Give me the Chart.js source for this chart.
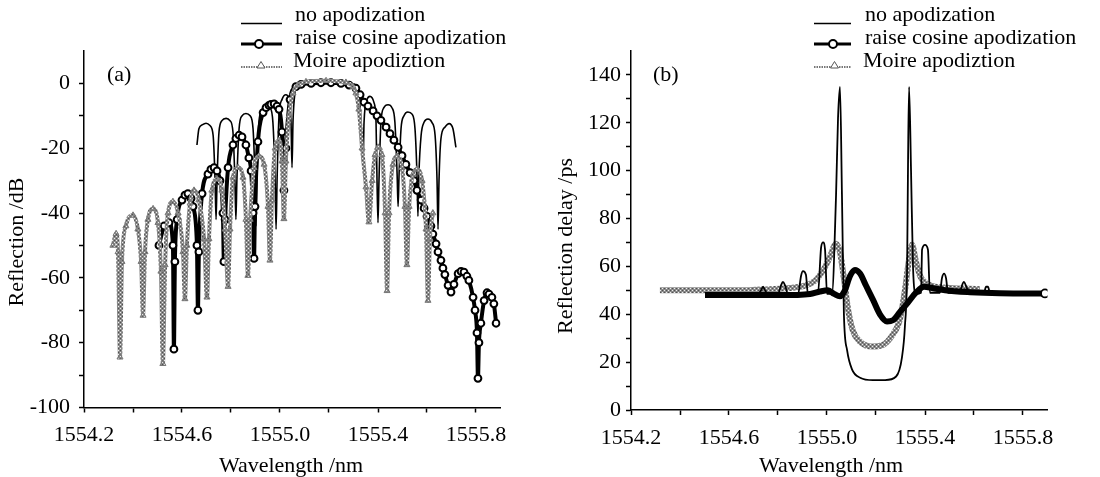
<!DOCTYPE html>
<html>
<head>
<meta charset="utf-8">
<script src="https://cdn.jsdelivr.net/npm/chart.js@4.4.0/dist/chart.umd.min.js"></script>
<style>
  body { margin:0; background:#fff; width:1100px; height:477px; overflow:hidden;
         font-family:"Liberation Serif","Times New Roman",serif; color:#000; }
  canvas { position:absolute; top:0; }
  .txt { position:absolute; font-size:22px; line-height:1; white-space:nowrap; }
  .ytitle { position:absolute; font-size:22px; line-height:1; white-space:nowrap;
            transform:translate(-50%,-50%) rotate(-90deg); }
  .xtitle { position:absolute; font-size:22px; line-height:1; white-space:nowrap;
            transform:translate(-50%,-50%); }
  svg { position:absolute; left:0; top:0; }
</style>
</head>
<body>
<canvas id="chartA" width="550" height="477" style="left:0"></canvas>
<canvas id="chartB" width="550" height="477" style="left:550px"></canvas>

<svg width="1100" height="477">
  <!-- legend samples (a) -->
  <line x1="241" y1="23.5" x2="282" y2="23.5" stroke="#000" stroke-width="1.6"/>
  <line x1="241" y1="44" x2="282" y2="44" stroke="#000" stroke-width="3"/>
  <circle cx="259" cy="44" r="4" fill="#fff" stroke="#000" stroke-width="2"/>
  <line x1="241" y1="67" x2="282" y2="67" stroke="#777" stroke-width="2" stroke-dasharray="1.5,1"/>
  <polygon points="261,61.5 265,68 257,68" fill="#fff" stroke="#555" stroke-width="1"/>
  <!-- legend samples (b) -->
  <line x1="814" y1="23.5" x2="851" y2="23.5" stroke="#000" stroke-width="1.6"/>
  <line x1="814" y1="44" x2="851" y2="44" stroke="#000" stroke-width="3"/>
  <circle cx="833" cy="44" r="4" fill="#fff" stroke="#000" stroke-width="2"/>
  <line x1="814" y1="67" x2="851" y2="67" stroke="#777" stroke-width="2" stroke-dasharray="1.5,1"/>
  <polygon points="834.5,61.5 838.5,68 830.5,68" fill="#fff" stroke="#555" stroke-width="1"/>
</svg>

<div class="txt" style="left:295px;top:3px">no apodization</div>
<div class="txt" style="left:295px;top:26px">raise cosine apodization</div>
<div class="txt" style="left:293px;top:49px">Moire apodiztion</div>
<div class="txt" style="left:865px;top:3px">no apodization</div>
<div class="txt" style="left:865px;top:26px">raise cosine apodization</div>
<div class="txt" style="left:863px;top:49px">Moire apodiztion</div>

<div class="txt" style="left:107px;top:63px">(a)</div>
<div class="txt" style="left:653px;top:63px">(b)</div>

<div class="ytitle" style="left:16px;top:242px">Reflection /dB</div>
<div class="ytitle" style="left:565px;top:246px">Reflection delay /ps</div>
<div class="xtitle" style="left:291px;top:465px">Wavelength /nm</div>
<div class="xtitle" style="left:831px;top:465px">Wavelength /nm</div>

<script>
// ---- ticks ----
const xTickVals = [1554.2,1554.4,1554.6,1554.8,1555.0,1555.2,1555.4,1555.6,1555.8];
const xTickText = ['1554.2','','1554.6','','1555.0','','1555.4','','1555.8'];
const yTicksA = [-100,-90,-80,-70,-60,-50,-40,-30,-20,-10,0];
const yTicksB = [0,10,20,30,40,50,60,70,80,90,100,110,120,130,140];

// ---- (a) reflection, dB ----
const noApodA_wl = [1554.661,1554.669,1554.682,1554.698,1554.714,1554.727,1554.735,1554.739,1554.743,1554.751,
  1554.763,1554.780,1554.796,1554.808,1554.816,1554.820,1554.824,1554.833,1554.845,1554.861,
  1554.878,1554.890,1554.898,1554.902,1554.906,1554.914,1554.927,1554.943,1554.959,1554.971,
  1554.980,1554.984,1554.988,1554.996,1555.008,1555.024,1555.037,1555.045,1555.049,1555.053,
  1555.061,1555.073,1555.094,1555.188,1555.290,1555.310,1555.322,1555.331,1555.339,1555.343,
  1555.355,1555.367,1555.384,1555.392,1555.396,1555.400,1555.404,1555.412,1555.424,1555.441,
  1555.457,1555.469,1555.478,1555.482,1555.486,1555.494,1555.506,1555.522,1555.539,1555.551,
  1555.559,1555.563,1555.567,1555.576,1555.588,1555.604,1555.620,1555.633,1555.641,1555.645,
  1555.649,1555.657,1555.673,1555.690,1555.706,1555.718];
const noApodA_db = [-19,-14,-12.8,-12.3,-13,-16,-30,-42,-30,-15,
  -11.5,-10.8,-11.5,-15,-30,-42,-30,-14,-10,-9.3,
  -10,-14,-30,-44,-30,-12,-8,-6.8,-7.5,-12,
  -30,-45,-30,-10,-5,-3.5,-5,-12,-26,-12,
  -3,-0.5,0,0.3,0,-0.5,-3,-12,-26,-12,
  -5,-4,-6,-12,-30,-43,-30,-12,-7.5,-6.6,
  -7.5,-12,-28,-38,-28,-14,-10,-8.8,-9.5,-14,
  -28,-41,-28,-16,-12,-11,-12,-16,-30,-45,
  -30,-17,-13.5,-12.4,-14,-19.7];

const raiseA_wl = [1554.506,1554.527,1554.547,1554.563,1554.567,1554.571,1554.580,1554.600,1554.612,1554.624,
  1554.637,1554.645,1554.661,1554.665,1554.669,1554.682,1554.706,1554.718,1554.731,1554.743,
  1554.755,1554.767,1554.771,1554.776,1554.788,1554.808,1554.820,1554.833,1554.845,1554.861,
  1554.873,1554.882,1554.890,1554.894,1554.898,1554.910,1554.931,1554.943,1554.955,1554.963,
  1554.976,1554.988,1554.996,1555.008,1555.016,1555.024,1555.041,1555.065,1555.086,1555.127,
  1555.167,1555.208,1555.249,1555.282,1555.310,1555.327,1555.343,1555.359,1555.380,1555.396,
  1555.412,1555.433,1555.449,1555.465,1555.482,1555.498,1555.514,1555.531,1555.547,1555.559,
  1555.576,1555.588,1555.600,1555.616,1555.624,1555.637,1555.645,1555.657,1555.665,1555.673,
  1555.686,1555.698,1555.710,1555.727,1555.739,1555.751,1555.763,1555.771,1555.788,1555.796,
  1555.804,1555.808,1555.812,1555.820,1555.833,1555.845,1555.853,1555.865,1555.873,1555.882];
const raiseA_db = [-50,-44,-43,-50,-82,-55,-42,-36,-34.5,-34,
  -35.5,-38,-50,-70,-52,-34,-28,-26.5,-26,-27,
  -30,-40,-55,-42,-26,-19,-17,-16,-16.5,-19,
  -23,-27,-40,-54,-38,-18,-9,-7.5,-6.8,-6.5,
  -6.3,-7,-8,-15,-33,-20,-5,-1,-0.3,0,
  0.2,0.2,0,-0.5,-1.5,-3.5,-5.8,-7,-8.5,-10,
  -11.4,-13.5,-15.5,-17.5,-19.7,-22.3,-25,-27.5,-30,-33,
  -36,-38.5,-41,-44,-46.5,-49.5,-52,-54.6,-57,-59,
  -62.3,-64.4,-62,-58.7,-58,-58.2,-59.5,-60.8,-66,-70,
  -77,-91,-80,-74,-67,-64.6,-65,-66,-68,-74];

const moireA_wl = [1554.318,1554.331,1554.339,1554.347,1554.355,1554.371,1554.400,1554.420,1554.433,1554.441,
  1554.449,1554.461,1554.482,1554.502,1554.514,1554.522,1554.531,1554.543,1554.563,1554.584,
  1554.604,1554.612,1554.620,1554.633,1554.649,1554.669,1554.690,1554.702,1554.710,1554.722,
  1554.743,1554.763,1554.776,1554.788,1554.796,1554.808,1554.829,1554.849,1554.861,1554.869,
  1554.878,1554.894,1554.914,1554.935,1554.951,1554.959,1554.967,1554.980,1554.996,1555.008,
  1555.016,1555.024,1555.037,1555.053,1555.073,1555.106,1555.188,1555.269,1555.298,1555.310,
  1555.322,1555.335,1555.351,1555.363,1555.376,1555.388,1555.400,1555.416,1555.429,1555.437,
  1555.445,1555.461,1555.478,1555.498,1555.510,1555.518,1555.527,1555.543,1555.559,1555.580,
  1555.596,1555.604,1555.612,1555.624];
const moireA_db = [-50,-46.4,-52,-84.5,-55,-44,-40.7,-45,-55,-71.6,
  -52,-42,-38.7,-43,-58,-86.5,-56,-40,-36.5,-40,
  -52,-66.5,-50,-37,-33,-36,-48,-66,-48,-33,
  -29.5,-33,-45,-62.7,-45,-29,-26,-29,-42,-59.3,
  -42,-26,-22.5,-25,-38,-54.6,-36,-20,-17.6,-24,
  -41.8,-24,-10,-3,-0.5,0.5,0.8,0.3,-1,-3,
  -8,-20,-32,-42.8,-30,-22,-19.7,-22,-40,-64,
  -40,-25,-22.5,-26,-38,-56,-38,-28,-26.5,-30,
  -45,-67,-48,-40];

// ---- (b) reflection delay, ps ----
const noApodB_wl = [1554.661,1554.718,1554.731,1554.739,1554.747,1554.759,1554.800,1554.812,1554.820,1554.829,
  1554.841,1554.882,1554.894,1554.902,1554.914,1554.922,1554.963,1554.976,1554.984,1554.992,
  1555.000,1555.020,1555.037,1555.045,1555.053,1555.061,1555.069,1555.082,1555.102,1555.135,
  1555.188,1555.237,1555.282,1555.306,1555.318,1555.327,1555.331,1555.335,1555.343,1555.351,
  1555.363,1555.384,1555.388,1555.400,1555.412,1555.420,1555.461,1555.469,1555.478,1555.486,
  1555.494,1555.543,1555.551,1555.559,1555.567,1555.580,1555.641,1555.649,1555.657,1555.665,
  1555.718];
const noApodB_ps = [48.5,48.5,50,51.5,50,48.5,48.5,52,53.5,52,
  48.5,48.5,56,58,56.5,48.5,48.5,68,70,67,
  48.5,48.5,90,122,135,90,40,25,17,13.5,
  12.5,12.5,14,22,35,60,106,135,100,60,
  48.5,49,67,69,67,49,49,55,57,55,
  49,49,52,53.5,52,49,49,51.5,51.5,49,
  49];

const raiseB_wl = [1554.502,1554.645,1554.808,1554.931,1554.971,1555.004,1555.029,1555.053,1555.073,1555.094,
  1555.114,1555.135,1555.159,1555.188,1555.216,1555.245,1555.269,1555.298,1555.331,1555.363,
  1555.396,1555.429,1555.482,1555.584,1555.706,1555.890];
const raiseB_ps = [48,48,48,48.5,49.5,50,48.5,47.5,50,56,
  58.5,57,52,46,40,37,37.5,41,45,49,
  51.5,51,50,49.2,48.8,48.7];

const moireB_wl = [1554.318,1554.482,1554.645,1554.767,1554.849,1554.910,1554.951,1554.988,1555.012,1555.037,
  1555.053,1555.069,1555.086,1555.106,1555.135,1555.184,1555.224,1555.265,1555.298,1555.318,
  1555.335,1555.347,1555.363,1555.380,1555.404,1555.441,1555.502,1555.624];
const moireB_ps = [50,50,50,50.5,51,52,54,59,64,69.5,
  66,55,42,33,28.5,26.5,27,31,38,50,
  63,69,62,56,53,51.5,51,50.5];

const FONT = '"Liberation Serif", "Times New Roman", serif';

function pts(xs, ys) { return xs.map((x, i) => ({ x: x, y: ys[i] })); }

// speckled grey used for the Moire curves
function ditherPattern(ctx) {
  const c = document.createElement('canvas');
  c.width = 4; c.height = 4;
  const g = c.getContext('2d');
  g.fillStyle = '#8a8a8a'; g.fillRect(0, 0, 4, 4);
  g.fillStyle = '#eeeeee'; g.fillRect(0, 0, 1, 1); g.fillRect(2, 2, 1, 1);
  g.fillStyle = '#505050'; g.fillRect(2, 0, 1, 1); g.fillRect(0, 2, 1, 1);
  return ctx.createPattern(c, 'repeat');
}

function buildChart(id, datasets, o) {
  const axisGrid = { drawOnChartArea:false, drawTicks:true, tickLength:5, tickColor:'#000', tickWidth:1.5 };
  const axisBorder = { display:true, color:'#000', width:1.5 };
  return new Chart(document.getElementById(id), {
    type: 'line',
    data: { datasets: datasets },
    options: {
      responsive: false,
      animation: false,
      layout: { padding: o.pad },
      plugins: { legend: { display:false }, tooltip: { enabled:false } },
      elements: { line: { cubicInterpolationMode:'monotone' } },
      scales: {
        x: {
          type: 'linear', min: 1554.2, max: 1555.9,
          afterBuildTicks: s => { s.ticks = xTickVals.map(v => ({ value: v })); },
          afterFit: s => { s.height = o.xHeight; },
          ticks: { autoSkip:false, maxRotation:0, padding:10, color:'#000',
                   font:{ family:FONT, size:22 }, callback: (v, i) => xTickText[i] },
          grid: axisGrid, border: axisBorder
        },
        y: {
          type: 'linear', min: o.yMin, max: o.yMax,
          afterBuildTicks: s => { s.ticks = o.yTicks.map(v => ({ value: v })); },
          afterFit: s => { s.width = o.yWidth; },
          ticks: { autoSkip:false, padding:o.yPad, color:'#000',
                   font:{ family:FONT, size:22 }, callback: v => (v % 20 === 0 ? String(v) : '') },
          grid: axisGrid, border: axisBorder
        }
      }
    }
  });
}

const ctxA = document.getElementById('chartA').getContext('2d');
const ctxB = document.getElementById('chartB').getContext('2d');
const grayA = ditherPattern(ctxA);
const grayB = ditherPattern(ctxB);

buildChart('chartA', [
  { label:'no apodization', data: pts(noApodA_wl, noApodA_db),
    borderColor:'#000', borderWidth:1.6, pointRadius:0, order:3 },
  { label:'raise cosine apodization', data: pts(raiseA_wl, raiseA_db),
    borderColor:'#000', borderWidth:4, pointRadius:3.4, pointStyle:'circle',
    pointBackgroundColor:'#fff', pointBorderColor:'#000', pointBorderWidth:2, order:2 },
  { label:'Moire apodiztion', data: pts(moireA_wl, moireA_db),
    borderColor:grayA, borderWidth:4, pointRadius:3.5, pointStyle:'triangle',
    pointBackgroundColor:grayA, pointBorderColor:'#777', pointBorderWidth:1, order:1 }
], { yMin:-100, yMax:10, yTicks:yTicksA, yWidth:84, yPad:9, xHeight:69.5,
     pad:{ left:0, top:51, right:49.5, bottom:0 } });

buildChart('chartB', [
  { label:'no apodization', data: pts(noApodB_wl, noApodB_ps),
    borderColor:'#000', borderWidth:1.8, pointRadius:0, order:2 },
  { label:'raise cosine apodization', data: pts(raiseB_wl, raiseB_ps),
    borderColor:'#000', borderWidth:6,
    pointRadius: c => (c.dataIndex === raiseB_wl.length - 1 ? 4 : 0),
    pointBackgroundColor:'#fff', pointBorderColor:'#000', pointBorderWidth:1.8, order:1 },
  { label:'Moire apodiztion', data: pts(moireB_wl, moireB_ps),
    borderColor:grayB, borderWidth:6, pointRadius:0, order:3 }
], { yMin:0, yMax:150, yTicks:yTicksB, yWidth:81, yPad:5, xHeight:67,
     pad:{ left:0, top:51, right:52.5, bottom:0 } });
</script>
</body>
</html>
